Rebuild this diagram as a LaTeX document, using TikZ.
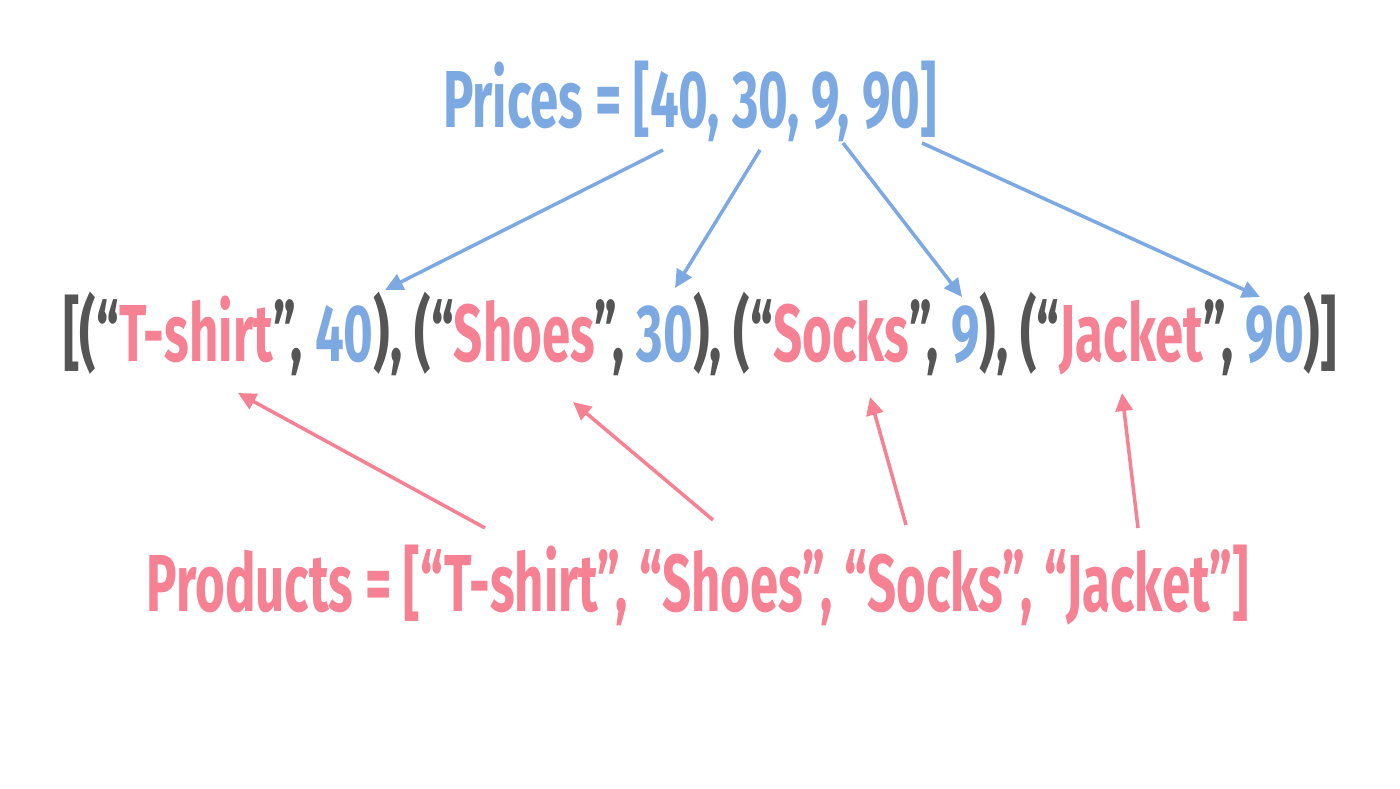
\documentclass[tikz,border=0pt]{standalone}
\usepackage{fontspec}
\setmainfont{Fira Sans}[FakeStretch=0.63]
\usepackage{tikz}
\usetikzlibrary{positioning}
\usetikzlibrary{arrows.meta}
\definecolor{priceblue}{HTML}{7DA9E3}
\definecolor{prodpink}{HTML}{F58193}
\definecolor{tuplegray}{HTML}{555555}
\tikzstyle{novertex} = [draw=none, fill=none, inner sep=0pt, anchor=base, font=\fontsize{23}{28}\selectfont\bfseries]
\tikzstyle{price} = [draw=priceblue, line width=1pt, -{Triangle[length=0.18cm,width=0.17cm]}]
\tikzstyle{prod}  = [draw=prodpink, line width=1pt, -{Triangle[length=0.18cm,width=0.17cm]}]
\newcommand{\pb}[1]{\textcolor{priceblue}{#1}}
\newcommand{\pp}[1]{\textcolor{prodpink}{#1}}

\begin{document}
\begin{tikzpicture}
	\useasboundingbox (0,0) rectangle (14,7.88);

	% place nodes
	\node [novertex, text=priceblue] (N0) at (6.90,6.60) {Prices = [40, 30, 9, 90]};
	\node [novertex, text=tuplegray] (N1) at (7.00,4.26) {[(“\pp{T-shirt}”, \pb{40}), (“\pp{Shoes}”, \pb{30}), (“\pp{Socks}”, \pb{9}), (“\pp{Jacket}”, \pb{90})]};
	\node [novertex, text=prodpink]  (N2) at (6.98,1.76) {Products = [“T-shirt”, “Shoes", “Socks”, “Jacket"]};

	% arrow ends
	\coordinate (A1) at (6.63,6.38); \coordinate (B1) at (3.85,4.98);
	\coordinate (A2) at (7.60,6.38); \coordinate (B2) at (6.75,5.00);
	\coordinate (A3) at (8.43,6.45); \coordinate (B3) at (9.62,4.91);
	\coordinate (A4) at (9.22,6.45); \coordinate (B4) at (12.60,4.91);
	\coordinate (C1) at (4.85,2.60); \coordinate (D1) at (2.38,3.95);
	\coordinate (C2) at (7.13,2.68); \coordinate (D2) at (5.73,3.86);
	\coordinate (C3) at (9.06,2.63); \coordinate (D3) at (8.70,3.91);
	\coordinate (C4) at (11.38,2.60); \coordinate (D4) at (11.22,3.95);

	% draw edges
	\path [price] (A1) -- (B1);
	\path [price] (A2) -- (B2);
	\path [price] (A3) -- (B3);
	\path [price] (A4) -- (B4);
	\path [prod]  (C1) -- (D1);
	\path [prod]  (C2) -- (D2);
	\path [prod]  (C3) -- (D3);
	\path [prod]  (C4) -- (D4);
\end{tikzpicture}
\end{document}
